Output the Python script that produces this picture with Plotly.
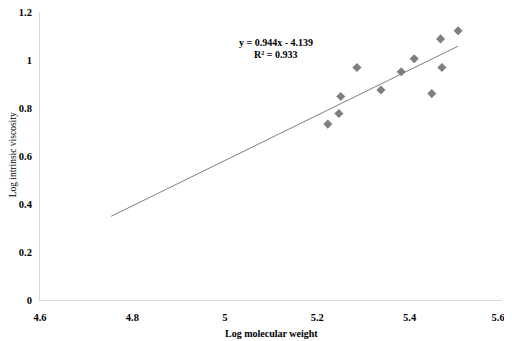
import plotly.graph_objects as go

log_mw = [5.223, 5.247, 5.251, 5.286, 5.338, 5.382, 5.410, 5.448, 5.467, 5.470, 5.505]
log_iv = [0.733, 0.777, 0.848, 0.969, 0.875, 0.951, 1.005, 0.860, 1.088, 0.969, 1.122]

slope = 0.944
intercept = -4.139
trend_x = [4.754, 5.505]
trend_y = [slope * x + intercept for x in trend_x]

x_ticks = [4.6, 4.8, 5.0, 5.2, 5.4, 5.6]
x_labels = ["4.6", "4.8", "5", "5.2", "5.4", "5.6\u00a0\u00a0\u00a0"]
y_ticks = [0, 0.2, 0.4, 0.6, 0.8, 1.0, 1.2]
y_labels = ["0", "0.2", "0.4", "0.6", "0.8", "1", "1.2"]

eq_text = "y = 0.944x - 4.139"
r2_text = "R² = 0.933"

font_family = "Liberation Serif, Times New Roman, serif"

fig = go.Figure()
fig.add_trace(go.Scatter(
    x=trend_x, y=trend_y, mode="lines",
    line=dict(color="#7f7f7f", width=1), showlegend=False, hoverinfo="skip"))
fig.add_trace(go.Scatter(
    x=log_mw, y=log_iv, mode="markers",
    marker=dict(symbol="diamond", size=7, color="#7f7f7f"), showlegend=False))

eq_font = dict(family=font_family, size=10, color="#000000", weight="bold")
fig.add_annotation(x=5.11, y=1.071, xref="x", yref="y", text=eq_text,
                   showarrow=False, font=eq_font, xanchor="center", yanchor="middle")
fig.add_annotation(x=5.11, y=1.021, xref="x", yref="y", text=r2_text,
                   showarrow=False, font=eq_font, xanchor="center", yanchor="middle")

fig.add_annotation(
    x=0.5, y=-0.118, xref="paper", yref="paper",
    text="Log molecular weight", showarrow=False,
    font=dict(family=font_family, size=10, color="#000000", weight="bold"),
    xanchor="center", yanchor="middle")

fig.add_annotation(
    x=-0.058, y=0.503, xref="paper", yref="paper",
    text="Log intrinsic viscosity", showarrow=False, textangle=-90,
    font=dict(family=font_family, size=9.5, color="#000000"),
    xanchor="center", yanchor="middle")

fig.update_layout(
    width=512, height=341,
    margin=dict(l=32, r=18, t=4, b=49, autoexpand=False),
    paper_bgcolor="white", plot_bgcolor="white",
    font=dict(family=font_family, color="#000000"),
    xaxis=dict(
        range=[4.6, 5.6], tickvals=x_ticks, ticktext=x_labels,
        showgrid=False, zeroline=False, showline=True, linecolor="#d9d9d9", linewidth=1,
        ticks="outside", ticklen=7, tickcolor="rgba(0,0,0,0)", ticklabeloverflow="allow",
        tickfont=dict(family=font_family, size=10.5, weight="bold"),
        automargin=False),
    yaxis=dict(
        range=[0, 1.2], tickvals=y_ticks, ticktext=y_labels,
        showgrid=False, zeroline=False, showline=True, linecolor="#d9d9d9", linewidth=1,
        ticks="outside", ticklen=5, tickcolor="rgba(0,0,0,0)", ticklabeloverflow="allow",
        tickfont=dict(family=font_family, size=10.5, weight="bold"),
        automargin=False),
)

fig.write_html("out.html")
